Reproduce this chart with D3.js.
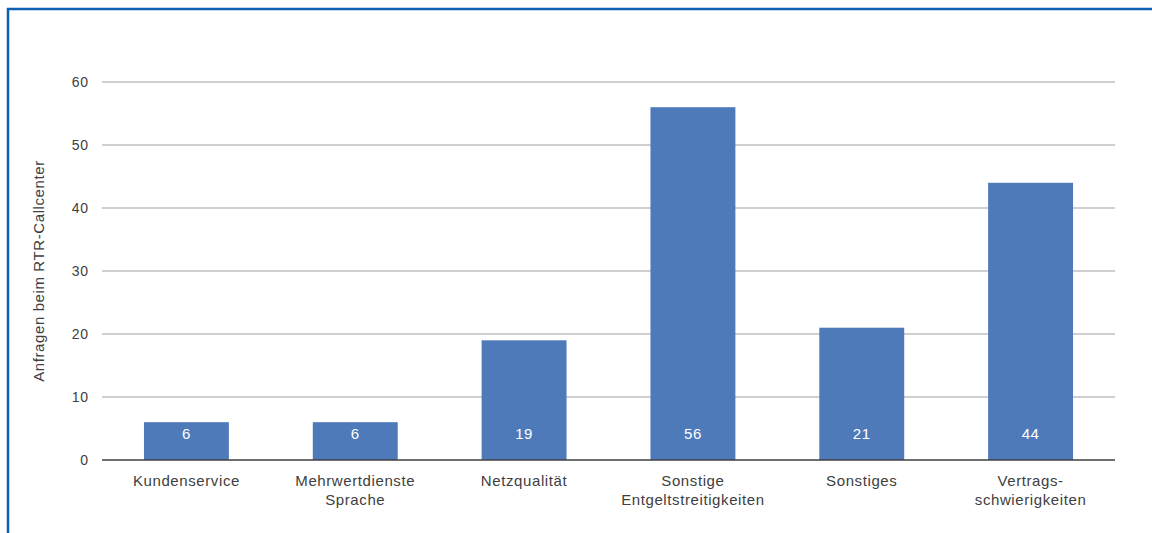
<!DOCTYPE html>
<html>
<head>
<meta charset="utf-8">
<script src="https://cdn.jsdelivr.net/npm/d3@7"></script>
<style>
  html, body { margin: 0; padding: 0; background: #fff; }
  svg { display: block; font-family: "Liberation Sans", Arial, sans-serif; }
  svg text { letter-spacing: 0.6px; }
  .tick text { letter-spacing: 0.9px; }
</style>
</head>
<body>
<svg id="chart" width="1152" height="533"></svg>
<script>
// Anfragen beim RTR-Callcenter nach Thema
const categories = [
  ["Kundenservice"],
  ["Mehrwertdienste", "Sprache"],
  ["Netzqualität"],
  ["Sonstige", "Entgeltstreitigkeiten"],
  ["Sonstiges"],
  ["Vertrags-", "schwierigkeiten"]
];
const values = [6, 6, 19, 56, 21, 44];
const yTicks = [0, 10, 20, 30, 40, 50, 60];
const yTitle = "Anfragen beim RTR-Callcenter";

const svg = d3.select("#chart");
const W = 1152, H = 533;
const margin = { left: 102, right: 37, top: 82, bottom: 73 };
const innerW = W - margin.left - margin.right;
const innerH = H - margin.top - margin.bottom;

// frame: top and left rule
svg.append("line").attr("x1", 7).attr("x2", W).attr("y1", 9).attr("y2", 9)
  .attr("stroke", "#0d5fb2").attr("stroke-width", 2.5);
svg.append("line").attr("x1", 8).attr("x2", 8).attr("y1", 8).attr("y2", H)
  .attr("stroke", "#0d5fb2").attr("stroke-width", 2.5);

const g = svg.append("g").attr("transform", `translate(${margin.left},${margin.top})`);

const x = d3.scaleBand().domain(d3.range(values.length)).range([0, innerW]).paddingInner(0.497).paddingOuter(0.2485);
const y = d3.scaleLinear().domain([0, 60]).range([innerH, 0]);

// gridlines
g.append("g").selectAll("line").data(yTicks.filter(t => t > 0)).join("line")
  .attr("x1", 0).attr("x2", innerW)
  .attr("y1", d => y(d)).attr("y2", d => y(d))
  .attr("stroke", "#bfbfbf").attr("stroke-width", 1.3);

// y axis labels
const yAxis = d3.axisLeft(y).tickValues(yTicks).tickSize(0).tickPadding(13);
const ya = g.append("g").call(yAxis);
ya.select(".domain").remove();
ya.selectAll("text").attr("fill", "#404040").attr("font-size", 14)
  .attr("font-family", "Liberation Sans, Arial, sans-serif");

// bars
g.append("g").selectAll("rect").data(values).join("rect")
  .attr("x", (d, i) => x(i)).attr("width", x.bandwidth())
  .attr("y", d => y(d)).attr("height", d => y(0) - y(d))
  .attr("fill", "#4f7aba");

// value labels
g.append("g").selectAll("text").data(values).join("text")
  .attr("x", (d, i) => x(i) + x.bandwidth() / 2)
  .attr("y", y(0) - 21.5)
  .attr("text-anchor", "middle")
  .attr("fill", "#ffffff").attr("font-size", 15)
  .text(d => d);

// baseline
g.append("line").attr("x1", 0).attr("x2", innerW).attr("y1", y(0)).attr("y2", y(0))
  .attr("stroke", "#404040").attr("stroke-width", 1.5);

// category labels
const cat = g.append("g").selectAll("text").data(categories).join("text")
  .attr("x", (d, i) => x(i) + x.bandwidth() / 2)
  .attr("y", innerH + 25.5)
  .attr("text-anchor", "middle")
  .attr("fill", "#404040").attr("font-size", 15);
cat.selectAll("tspan").data(d => d).join("tspan")
  .attr("x", function () { return d3.select(this.parentNode).attr("x"); })
  .attr("dy", (d, i) => i === 0 ? 0 : 19)
  .text(d => d);

// y axis title
svg.append("text")
  .attr("transform", `translate(44,${margin.top + innerH / 2}) rotate(-90)`)
  .attr("text-anchor", "middle")
  .attr("fill", "#404040").attr("font-size", 15)
  .text(yTitle);
</script>
</body>
</html>
